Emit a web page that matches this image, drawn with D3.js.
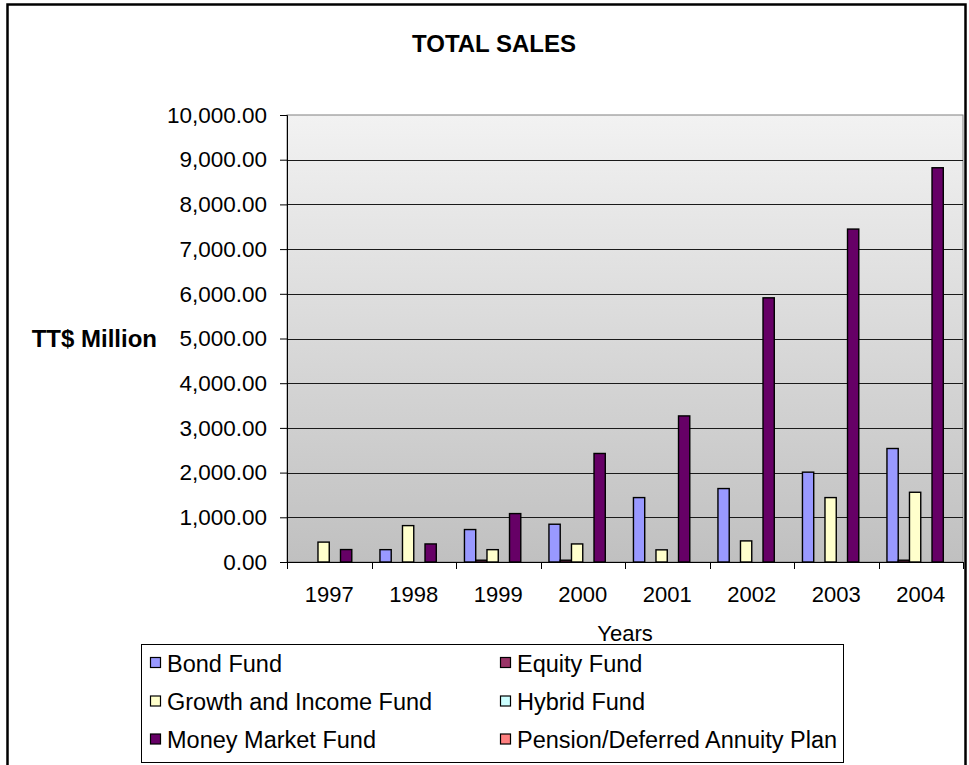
<!DOCTYPE html>
<html>
<head>
<meta charset="utf-8">
<script src="https://cdn.jsdelivr.net/npm/d3@7/dist/d3.min.js"></script>
<style>
  html, body { margin: 0; padding: 0; background: #fff; }
  svg { display: block; font-family: "Liberation Sans", Arial, sans-serif; }
</style>
</head>
<body>
<script>
// Sales by fund type, TT$ million
const years = ["1997", "1998", "1999", "2000", "2001", "2002", "2003", "2004"];
const seriesNames = [
  "Bond Fund", "Equity Fund", "Growth and Income Fund",
  "Hybrid Fund", "Money Market Fund", "Pension/Deferred Annuity Plan"
];
const bondFund          = [0, 276, 726, 845, 1441, 1643, 2010, 2539];
const equityFund        = [0, 0, 40, 40, 0, 0, 0, 40];
const growthIncomeFund  = [445, 814, 276, 404, 272, 472, 1441, 1560];
const hybridFund        = [0, 0, 0, 0, 0, 0, 0, 0];
const moneyMarketFund   = [278, 404, 1083, 2428, 3268, 5910, 7448, 8820];
const pensionPlan       = [0, 0, 0, 0, 0, 0, 0, 0];
const yTicks = [0, 1000, 2000, 3000, 4000, 5000, 6000, 7000, 8000, 9000, 10000];

const seriesColors = ["#9999FF", "#993366", "#FFFFCC", "#CCFFFF", "#660066", "#FF8080"];
const seriesValues = [bondFund, equityFund, growthIncomeFund, hybridFund, moneyMarketFund, pensionPlan];

const W = 969, H = 765;
const plot = { left: 287, right: 963, top: 115, bottom: 562 };
const FF = "'Liberation Sans', Arial, sans-serif";

const svg = d3.select("body").append("svg").attr("width", W).attr("height", H);

// outer chart frame
svg.append("rect")
  .attr("x", 7.5).attr("y", 4.5).attr("width", 958).attr("height", H + 20)
  .attr("fill", "#fff").attr("stroke", "#000").attr("stroke-width", 2.5);

// plot background gradient
const defs = svg.append("defs");
const grad = defs.append("linearGradient").attr("id", "plotBg")
  .attr("x1", 0).attr("y1", 0).attr("x2", 0).attr("y2", 1);
grad.append("stop").attr("offset", "0%").attr("stop-color", "#f2f2f2");
grad.append("stop").attr("offset", "100%").attr("stop-color", "#c0c0c0");

const x0 = d3.scaleBand().domain(years).range([plot.left, plot.right]).paddingInner(0).paddingOuter(0);
const x1 = d3.scaleBand().domain(d3.range(seriesNames.length)).range([0, x0.bandwidth()])
  .paddingInner(0).paddingOuter(0.75);
const y = d3.scaleLinear().domain([0, 10000]).range([plot.bottom, plot.top]);

svg.append("rect")
  .attr("x", plot.left).attr("y", plot.top)
  .attr("width", plot.right - plot.left).attr("height", plot.bottom - plot.top)
  .attr("fill", "url(#plotBg)").attr("stroke", "#808080").attr("stroke-width", 1);

// horizontal gridlines
svg.append("g").selectAll("line")
  .data(yTicks.filter(t => t > 0 && t < 10000))
  .join("line")
  .attr("x1", plot.left).attr("x2", plot.right)
  .attr("y1", d => Math.round(y(d)) + 0.5).attr("y2", d => Math.round(y(d)) + 0.5)
  .attr("stroke", "#1a1a1a").attr("stroke-width", 1);

// bars
const groups = svg.append("g").selectAll("g")
  .data(years)
  .join("g")
  .attr("transform", d => `translate(${x0(d)},0)`);

groups.selectAll("rect")
  .data((d, i) => seriesValues.map((vals, s) => ({ s, v: vals[i] })).filter(e => e.v > 0))
  .join("rect")
  .attr("x", d => x1(d.s))
  .attr("width", x1.bandwidth())
  .attr("y", d => y(d.v))
  .attr("height", d => y(0) - y(d.v))
  .attr("fill", d => seriesColors[d.s])
  .attr("stroke", "#000").attr("stroke-width", 1.4);

// y axis
const yAxis = svg.append("g")
  .attr("transform", `translate(${plot.left},0)`)
  .call(d3.axisLeft(y).tickValues(yTicks).tickFormat(d3.format(",.2f")).tickSize(7).tickPadding(13));
yAxis.select(".domain").attr("stroke", "#000");
yAxis.selectAll(".tick line").attr("stroke", "#000");
yAxis.selectAll("text").attr("font-size", 22.5).attr("fill", "#000").attr("font-family", FF);

// x axis with ticks on category boundaries
const xAxis = svg.append("g")
  .attr("transform", `translate(0,${plot.bottom})`)
  .call(d3.axisBottom(x0).tickSize(0).tickPadding(24));
xAxis.select(".domain").attr("stroke", "#000");
xAxis.selectAll("text").attr("font-size", 22).attr("fill", "#000").attr("font-family", FF);
const boundaries = years.map(d => x0(d)).concat([x0(years[years.length - 1]) + x0.bandwidth()]);
xAxis.selectAll(".boundary")
  .data(boundaries)
  .join("line")
  .attr("class", "boundary")
  .attr("x1", d => Math.round(d) + 0.5).attr("x2", d => Math.round(d) + 0.5)
  .attr("y1", 0).attr("y2", 7)
  .attr("stroke", "#000");

// titles
svg.append("text")
  .attr("x", 494).attr("y", 52)
  .attr("text-anchor", "middle").attr("font-size", 24).attr("font-weight", "bold")
  .text("TOTAL SALES");

svg.append("text")
  .attr("x", 157).attr("y", y(5000) + 8.5)
  .attr("text-anchor", "end").attr("font-size", 24).attr("font-weight", "bold")
  .text("TT$ Million");

svg.append("text")
  .attr("x", (plot.left + plot.right) / 2).attr("y", 641)
  .attr("text-anchor", "middle").attr("font-size", 22)
  .text("Years");

// legend
const legend = svg.append("g");
legend.append("rect")
  .attr("x", 141.5).attr("y", 644.5).attr("width", 702).attr("height", 118)
  .attr("fill", "#fff").attr("stroke", "#000").attr("stroke-width", 1);

const colX = [150, 500];
const rowY = [663, 701.5, 739.5];
const items = legend.selectAll("g.item")
  .data(seriesNames)
  .join("g")
  .attr("class", "item")
  .attr("transform", (d, i) => `translate(${colX[i % 2]},${rowY[Math.floor(i / 2)]})`);
items.append("rect")
  .attr("x", 0.5).attr("y", -5.5).attr("width", 10).attr("height", 10)
  .attr("fill", (d, i) => seriesColors[i]).attr("stroke", "#000").attr("stroke-width", 1.2);
items.append("text")
  .attr("x", 17).attr("y", 8.5)
  .attr("font-size", 23.5)
  .text(d => d);
</script>
</body>
</html>
